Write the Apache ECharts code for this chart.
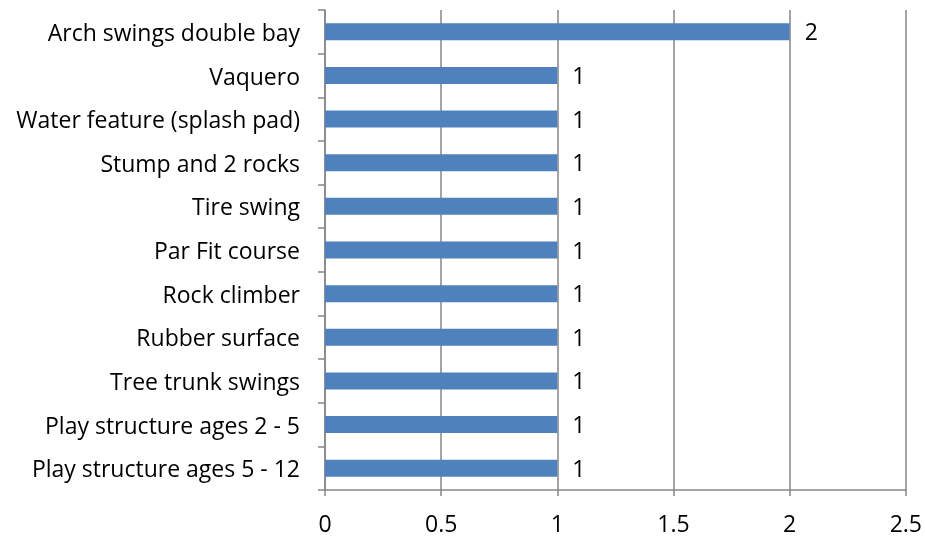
<!DOCTYPE html>
<html><head><meta charset="utf-8">
<script src="https://cdn.jsdelivr.net/npm/echarts@6/dist/echarts.min.js"></script>
<style>html,body{margin:0;padding:0;background:#fff}#c{width:925px;height:539px}</style>
</head><body><div id="c"></div>
<script>
const categories = ["Play structure ages 5 - 12","Play structure ages 2 - 5","Tree trunk swings","Rubber surface","Rock climber","Par Fit course","Tire swing","Stump and 2 rocks","Water feature (splash pad)","Vaquero","Arch swings double bay"];
const values = [1,1,1,1,1,1,1,1,1,1,2];
const xTicks = [0,0.5,1,1.5,2,2.5];
const FONT = "Open Sans";
const chart = echarts.init(document.getElementById('c'));
chart.setOption({
  animation:false,
  grid:{left:325,right:18,top:10,bottom:49,containLabel:false},
  xAxis:{type:'value',min:0,max:2.5,interval:0.5,
    axisLine:{show:true,lineStyle:{color:'#868686',width:1.5}},
    axisTick:{show:true,length:6,lineStyle:{color:'#868686',width:1.5}},
    splitLine:{show:true,lineStyle:{color:'#868686',width:1.5}},
    axisLabel:{color:'#000',fontSize:23,fontFamily:FONT,margin:24,
      formatter:v=>String(v)}},
  yAxis:{type:'category',data:categories,
    axisLine:{show:true,lineStyle:{color:'#868686',width:1.5}},
    axisTick:{show:true,length:7,lineStyle:{color:'#868686',width:1.5}},
    axisLabel:{color:'#000',fontSize:23,fontFamily:FONT,margin:25,
      formatter:v=>'{a|'+v+'}',
      rich:{a:{color:'#000',fontSize:23,fontFamily:FONT,padding:[5,0,0,0]}}}},
  series:[{type:'bar',data:values,barWidth:17,
    itemStyle:{color:'#4F81BD'},
    label:{show:true,position:'right',distance:15,offset:[0,2],color:'#000',fontSize:23,fontFamily:FONT}}]
});
</script></body></html>
